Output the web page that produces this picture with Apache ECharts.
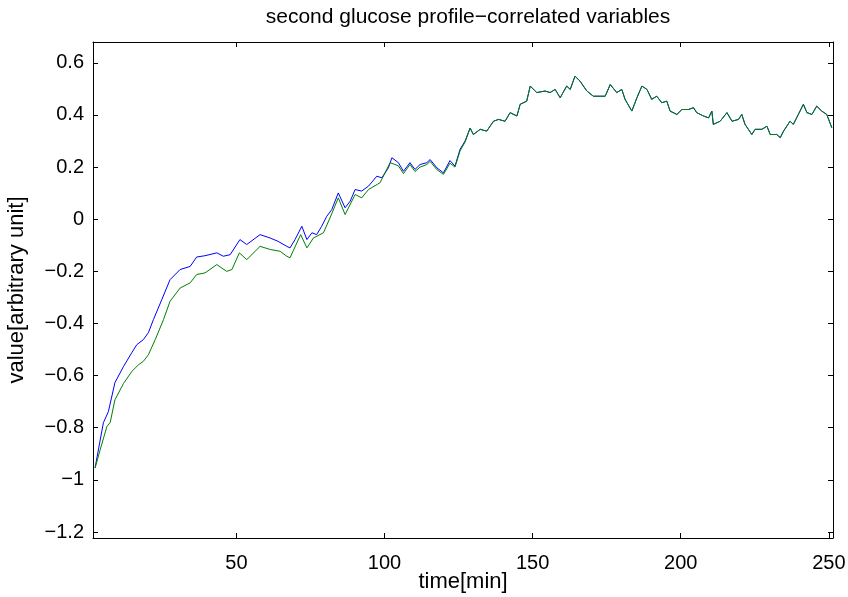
<!DOCTYPE html>
<html><head><meta charset="utf-8">
<script src="https://cdn.jsdelivr.net/npm/echarts@6/dist/echarts.min.js"></script>
<style>html,body{margin:0;padding:0;background:#fff}#c{width:848px;height:597px}</style>
</head><body><div id="c"></div>
<script>
// early part where the two series differ (time [min], value)
var blueEarlyT = [2.3,5.1,6.8,9.0,11.9,14.7,16.4,18.6,20.3,22.0,24.8,27.6,31.0,34.4,36.6,39.4,43.4,45.6,47.9,51.2,53.5,58.0,61.4,64.1,67.0,68.1,69.8,72.1,73.8,75.5,77.1,78.8,80.5,82.2,84.4,86.7,88.4,90.1,92.3,94.6,97.4,99.1,101.3,102.5,104.7,106.4,108.6,110.3,112.0,114.3,115.4,117.7,119.9,122.1,123.8,125.5,127.2];
var blueEarlyV = [-0.954,-0.781,-0.738,-0.627,-0.565,-0.512,-0.481,-0.462,-0.435,-0.385,-0.309,-0.232,-0.193,-0.181,-0.145,-0.140,-0.129,-0.142,-0.136,-0.078,-0.097,-0.059,-0.072,-0.085,-0.104,-0.110,-0.078,-0.027,-0.078,-0.052,-0.059,-0.027,0.011,0.037,0.101,0.044,0.069,0.114,0.108,0.127,0.165,0.159,0.197,0.236,0.217,0.184,0.217,0.191,0.210,0.217,0.229,0.197,0.178,0.225,0.204,0.268,0.300];
var greenEarlyT = [2.3,4.0,6.3,7.4,9.0,11.9,14.7,17.0,18.6,20.3,22.6,25.4,27.6,31.0,34.4,36.6,39.4,43.4,46.7,48.5,51.0,53.5,58.0,61.4,64.8,67.0,68.1,71.7,73.8,76.0,79.4,81.6,84.4,86.7,90.1,92.3,94.6,98.5,101.9,102.5,104.7,106.4,108.6,110.3,112.0,114.3,115.4,117.7,119.9,122.1,123.8,125.5,127.2];
var greenEarlyV = [-0.955,-0.885,-0.795,-0.780,-0.693,-0.630,-0.584,-0.558,-0.545,-0.520,-0.462,-0.385,-0.315,-0.264,-0.244,-0.212,-0.206,-0.174,-0.200,-0.193,-0.129,-0.155,-0.104,-0.116,-0.123,-0.142,-0.148,-0.059,-0.110,-0.072,-0.052,0.005,0.082,0.018,0.095,0.082,0.114,0.140,0.217,0.220,0.205,0.175,0.210,0.183,0.200,0.210,0.222,0.190,0.172,0.215,0.200,0.262,0.296];
// later part where both series coincide
var sharedT = [128.9,130.0,132.3,134.5,136.8,138.5,140.7,142.4,144.7,145.8,148.0,149.2,151.4,154.2,155.9,157.6,159.3,161.5,162.7,164.3,166.0,168.3,170.5,172.8,174.5,176.2,178.4,180.1,181.2,183.5,185.2,186.9,188.6,190.2,191.9,193.6,195.3,196.4,198.7,200.4,202.6,204.3,205.4,207.7,209.4,210.5,211.0,213.3,215.6,217.3,219.5,220.6,221.7,224.0,225.1,227.4,229.1,230.2,232.4,233.6,234.7,236.9,238.0,239.7,241.4,242.6,244.3,245.9,247.6,249.3,251.0];
var sharedV = [0.350,0.325,0.345,0.338,0.376,0.383,0.376,0.409,0.396,0.441,0.453,0.511,0.486,0.492,0.486,0.498,0.466,0.511,0.498,0.549,0.530,0.492,0.472,0.472,0.472,0.517,0.486,0.498,0.460,0.415,0.466,0.511,0.498,0.460,0.472,0.447,0.453,0.415,0.402,0.421,0.421,0.428,0.409,0.396,0.389,0.415,0.364,0.376,0.409,0.376,0.383,0.402,0.364,0.325,0.345,0.345,0.357,0.325,0.325,0.313,0.338,0.376,0.364,0.402,0.441,0.409,0.402,0.434,0.415,0.402,0.351];
var xTicks = [50,100,150,200,250];
var yTicks = [-1.2,-1,-0.8,-0.6,-0.4,-0.2,0,0.2,0.4,0.6];

function pairs(t, v){ return t.map(function(x,i){ return [x, v[i]]; }); }
var blueData = pairs(blueEarlyT, blueEarlyV).concat(pairs(sharedT, sharedV));
var greenData = pairs(greenEarlyT, greenEarlyV).concat(pairs(sharedT, sharedV));

var FONT = 'Liberation Sans';
function fmt(v){ var s = String(Math.round(v*10)/10); return s.replace('-', '\u2212'); }
var XMIN = 1.6, XMAX = 251.4, YMIN = -1.223, YMAX = 0.68;
var axLine = {show:true, onZero:false, lineStyle:{color:'#000', width:1}};
function tick(vals){ return {show:true, inside:true, length:5, customValues:vals, lineStyle:{color:'#000'}}; }

var chart = echarts.init(document.getElementById('c'), null, {renderer:'canvas'});
chart.setOption({
  animation:false,
  backgroundColor:'#fff',
  title:{text:'second glucose profile\u2212correlated variables', left:463, top:2, textAlign:'center',
    textStyle:{fontFamily:FONT, fontSize:21, fontWeight:'normal', color:'#000'}},
  grid:{left:93, right:15, top:42, bottom:59, containLabel:false, outerBoundsMode:'none'},
  xAxis:[
    {type:'value', min:XMIN, max:XMAX, position:'bottom', axisLine:axLine, axisTick:tick(xTicks),
     splitLine:{show:false}, name:'time[min]', nameLocation:'middle', nameGap:33, nameMoveOverlap:false,
     nameTextStyle:{fontFamily:FONT, fontSize:22, color:'#000'},
     axisLabel:{customValues:xTicks, fontFamily:FONT, fontSize:20, color:'#000', margin:15, formatter:fmt}},
    {type:'value', min:XMIN, max:XMAX, position:'top', axisLine:axLine, axisTick:tick(xTicks),
     splitLine:{show:false}, axisLabel:{show:false}}
  ],
  yAxis:[
    {type:'value', min:YMIN, max:YMAX, position:'left', axisLine:axLine, axisTick:tick(yTicks),
     splitLine:{show:false}, name:'value[arbitrary unit]', nameLocation:'middle', nameGap:65, nameMoveOverlap:false,
     nameTextStyle:{fontFamily:FONT, fontSize:22, color:'#000'},
     axisLabel:{customValues:yTicks, fontFamily:FONT, fontSize:20, color:'#000', margin:9, formatter:fmt}},
    {type:'value', min:YMIN, max:YMAX, position:'right', axisLine:axLine, axisTick:tick(yTicks),
     splitLine:{show:false}, axisLabel:{show:false}}
  ],
  series:[
    {type:'line', data:blueData, showSymbol:false, symbol:'none', lineStyle:{color:'#0000ff', width:1}, z:2},
    {type:'line', data:greenData, showSymbol:false, symbol:'none', lineStyle:{color:'#008000', width:1}, z:3}
  ]
});
</script></body></html>
